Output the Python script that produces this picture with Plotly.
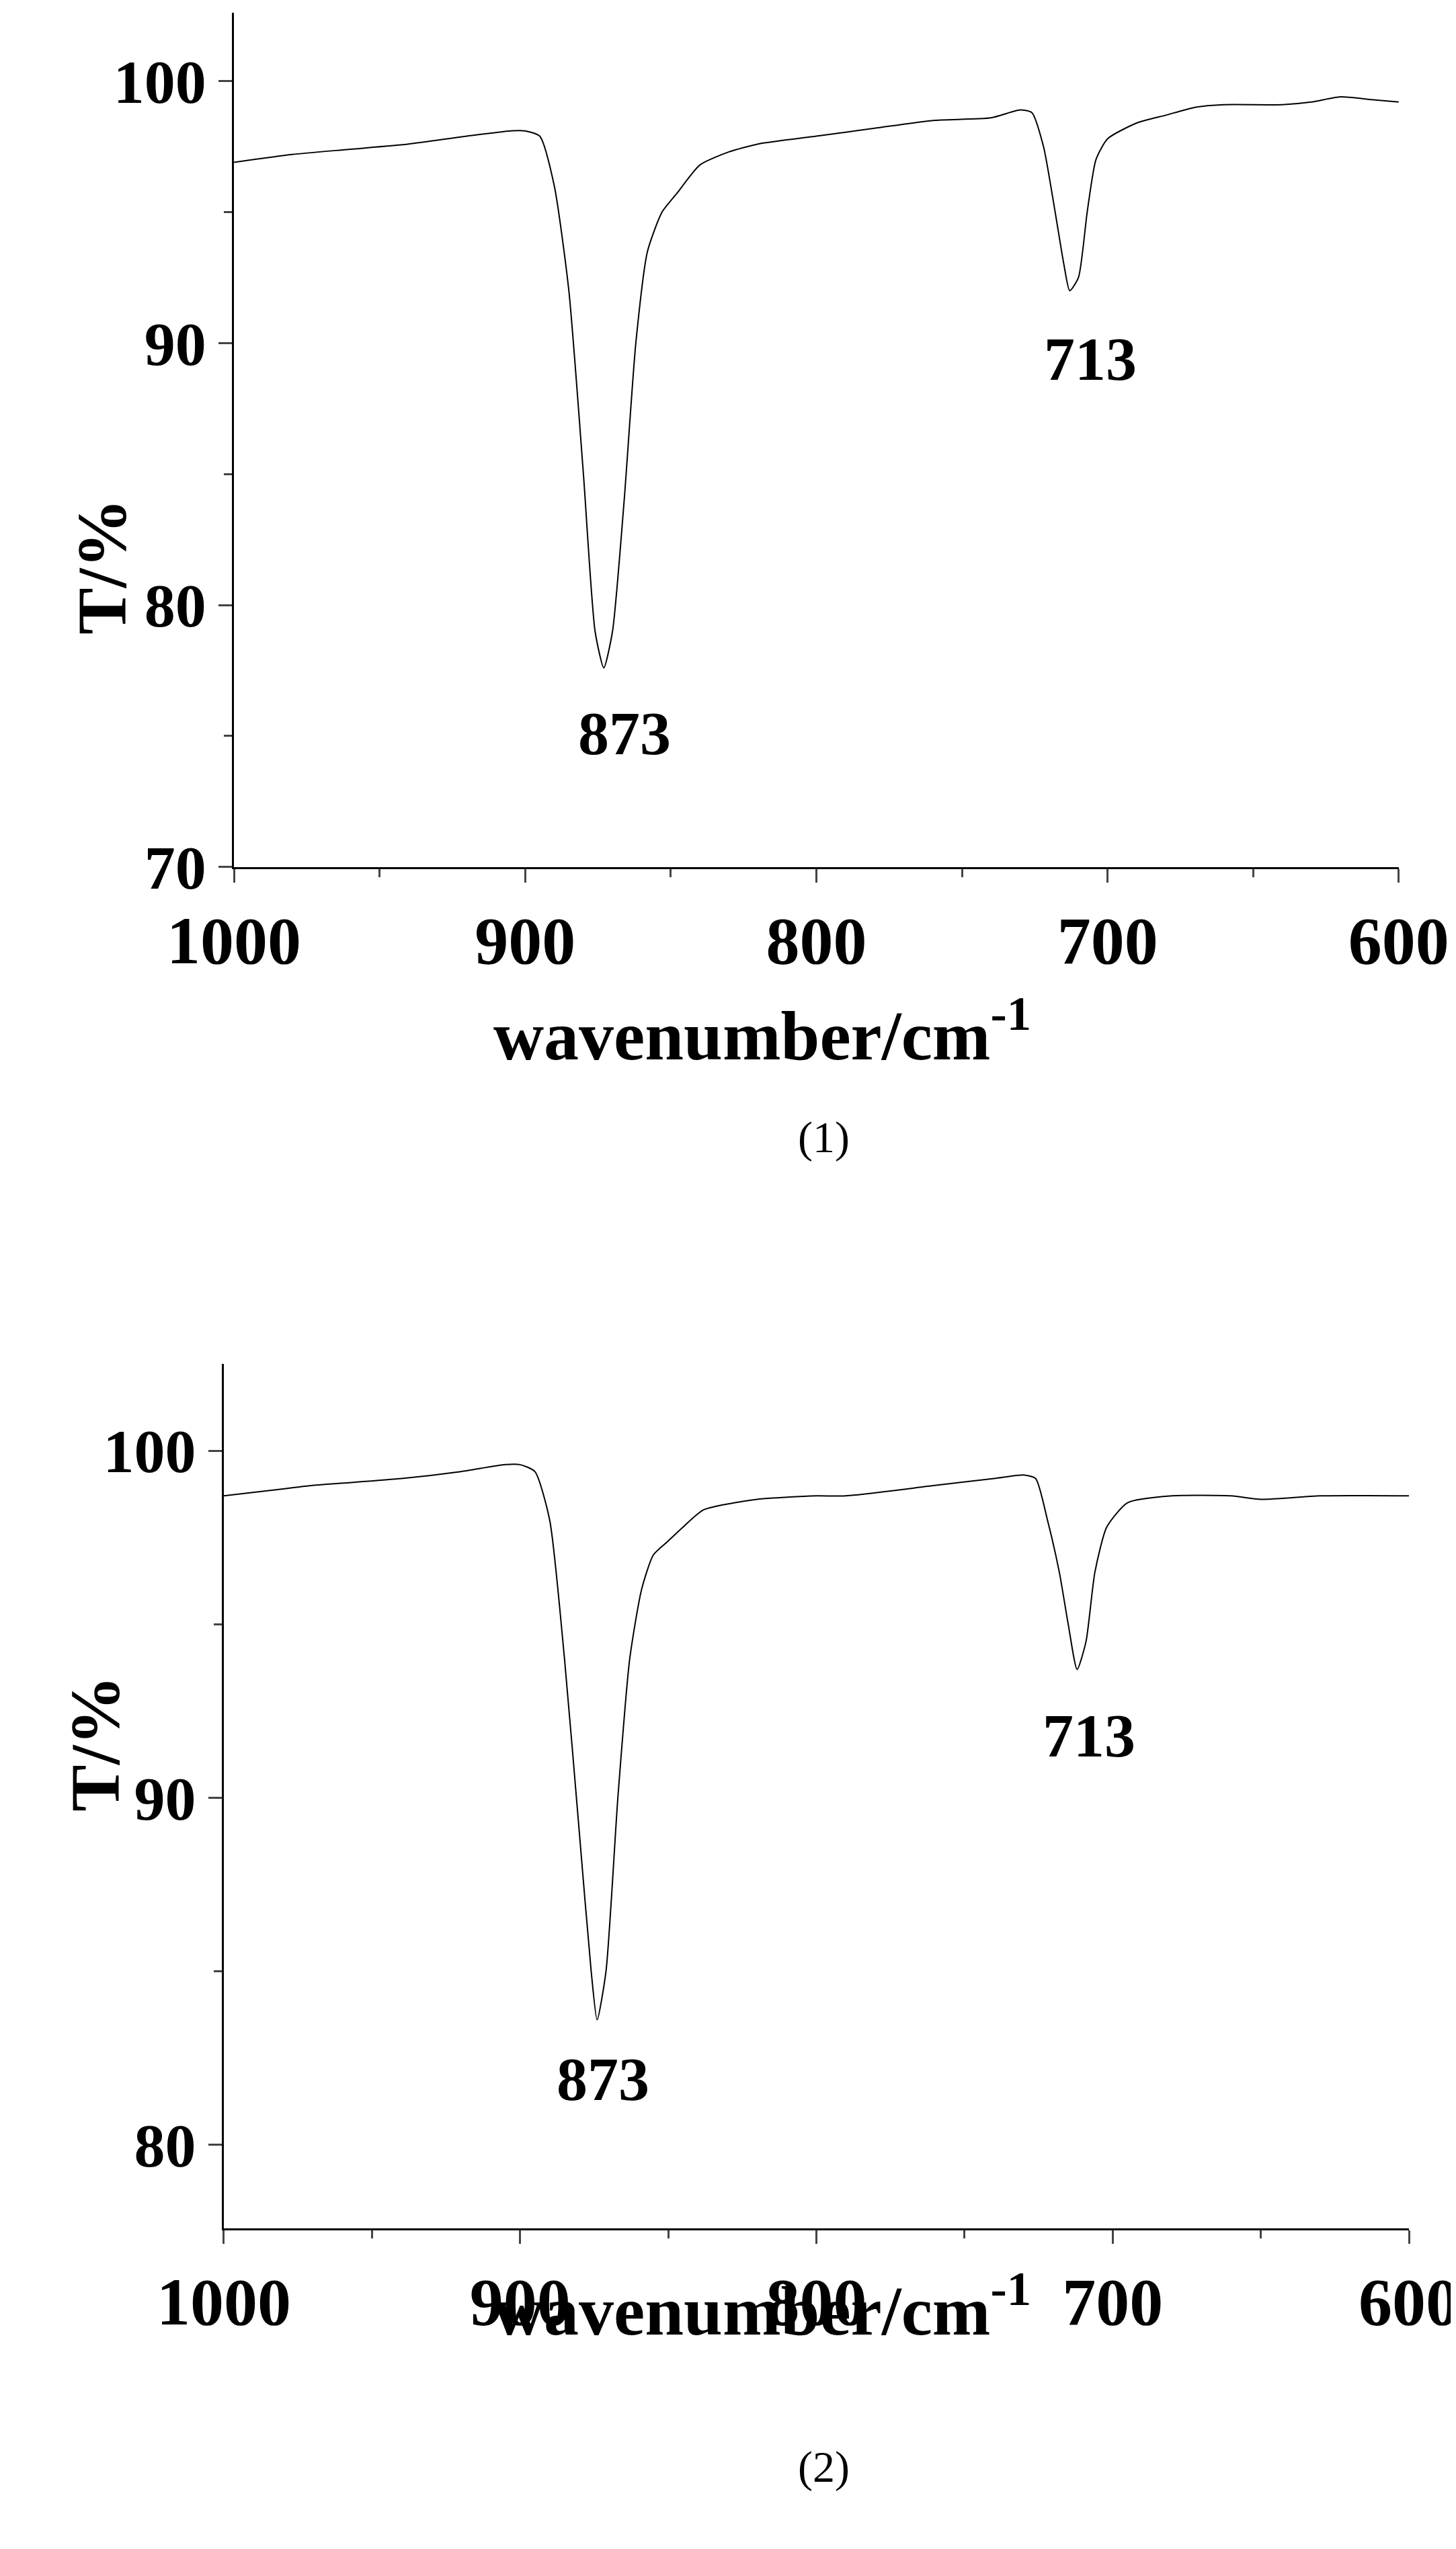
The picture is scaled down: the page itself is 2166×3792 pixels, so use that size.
import plotly.graph_objects as go

x1 = [1000,980,960,940,920,905,900,895,890,885,880,876,873,870,866,862,858,853,848,840,830,820,800,780,760,740,730,726,722,718,715,713,710,707,704,700,690,680,670,660,640,630,620,610,600]
y1 = [96.9,97.2,97.4,97.6,97.9,98.1,98.1,97.9,96,92,85,79,77.6,79,84,90,93.5,95,95.7,96.8,97.3,97.6,97.9,98.2,98.5,98.6,98.9,98.8,97.5,95,93,92,92.5,95,97,97.8,98.4,98.7,99,99.1,99.1,99.2,99.4,99.3,99.2]
x2 = [1000,980,970,940,920,905,900,895,890,885,880,876,874,871,867,863,859,855,850,845,838,820,800,790,760,740,730,726,722,718,715,712,709,706,702,695,680,660,650,630,600]
y2 = [98.7,98.9,99.0,99.2,99.4,99.6,99.6,99.4,98,94,89,85,83.6,85,90,94,96,97,97.4,97.8,98.3,98.6,98.7,98.7,99,99.2,99.3,99.2,98,96.5,95,93.7,94.5,96.5,97.8,98.5,98.7,98.7,98.6,98.7,98.7]
peak_labels = ["873", "713"]
peaks1 = [(866, 75.1), (706, 89.4)]
peaks2 = [(872, 81.9), (708, 91.8)]
panel_labels = ["(1)", "(2)"]

F = "Liberation Serif"
fig = go.Figure()
fig.add_trace(go.Scatter(x=x1, y=y1, mode="lines", line=dict(color="black", width=2, shape="spline", smoothing=0.6), xaxis="x", yaxis="y"))
fig.add_trace(go.Scatter(x=x2, y=y2, mode="lines", line=dict(color="black", width=2, shape="spline", smoothing=0.6), xaxis="x2", yaxis="y2"))

def xa(dom):
    return dict(domain=dom, range=[1000, 600], tickvals=[1000,900,800,700,600], ticks="outside", ticklen=20, tickwidth=3,
                showline=True, linecolor="black", linewidth=3, showgrid=False, zeroline=False, automargin=False,
                tickfont=dict(family=F, size=100, color="black", weight="bold"),
                minor=dict(tickvals=[950,850,750,650], ticks="outside", ticklen=12, tickwidth=3))
def ya(dom, rng, tv, mv, anchor):
    return dict(domain=dom, range=rng, tickvals=tv, ticks="outside", ticklen=20, tickwidth=3, anchor=anchor,
                showline=True, linecolor="black", linewidth=3, showgrid=False, zeroline=False, automargin=False,
                tickfont=dict(family=F, size=92, color="black", weight="bold"),
                minor=dict(tickvals=mv, ticks="outside", ticklen=12, tickwidth=3))

fig.update_layout(
    width=2166, height=3792, margin=dict(l=0, r=0, t=0, b=0),
    paper_bgcolor="white", plot_bgcolor="white", showlegend=False,
    xaxis=dict(xa([0.157, 0.957]), anchor="y"),
    yaxis=ya([0.662, 0.997], [70, 102.6], [70,80,90,100], [75,85,95], "x"),
    xaxis2=dict(xa([0.150, 0.964]), anchor="y2"),
    yaxis2=ya([0.128, 0.467], [77.6, 102.5], [80,90,100], [85,95], "x2"),
)
bold = dict(family=F, size=92, color="black", weight="bold")
for (px, py), t in zip(peaks1, peak_labels):
    fig.add_annotation(x=px, y=py, xref="x", yref="y", text=t, showarrow=False, font=bold)
for (px, py), t in zip(peaks2, peak_labels):
    fig.add_annotation(x=px, y=py, xref="x2", yref="y2", text=t, showarrow=False, font=bold)
for yy in [0.598, 0.080]:
    fig.add_annotation(x=0.52, y=yy, xref="paper", yref="paper", text="wavenumber/cm<sup>-1</sup>", showarrow=False, font=dict(family=F, size=104, color="black", weight="bold"))
for (xx, yy) in [(0.039, 0.807), (0.034, 0.291)]:
    fig.add_annotation(x=xx, y=yy, xref="paper", yref="paper", text="T/%", textangle=-90, showarrow=False, font=dict(family=F, size=104, color="black", weight="bold"))
for yy, t in zip([0.556, 0.024], panel_labels):
    fig.add_annotation(x=0.562, y=yy, xref="paper", yref="paper", text=t, showarrow=False, font=dict(family=F, size=66, color="black"))
fig.write_html("out.html")
